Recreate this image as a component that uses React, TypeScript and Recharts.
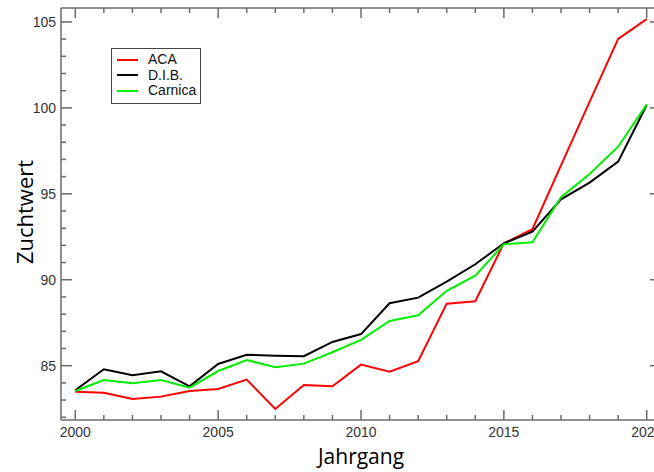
import { LineChart, Line, XAxis, YAxis } from 'recharts'

// Zuchtwert trend per Jahrgang, three breeding populations.

const years = [
  2000, 2001, 2002, 2003, 2004, 2005, 2006, 2007, 2008, 2009, 2010,
  2011, 2012, 2013, 2014, 2015, 2016, 2017, 2018, 2019, 2020,
]
const aca = [
  83.49, 83.43, 83.06, 83.2, 83.53, 83.65, 84.19, 82.48, 83.88, 83.8, 85.06,
  84.65, 85.26, 88.61, 88.75, 92.12, 92.94, 96.65, 100.35, 104.01, 105.16,
]
const dib = [
  83.57, 84.79, 84.44, 84.67, 83.8, 85.1, 85.64, 85.58, 85.55, 86.38, 86.84,
  88.63, 88.96, 89.89, 90.9, 92.12, 92.8, 94.68, 95.65, 96.87, 100.17,
]
const carnica = [
  83.53, 84.17, 83.98, 84.17, 83.72, 84.69, 85.33, 84.91, 85.12, 85.78, 86.5,
  87.6, 87.93, 89.36, 90.24, 92.06, 92.18, 94.8, 96.15, 97.74, 100.2,
]
const yTicks = [
  82, 83, 84, 85, 86, 87, 88, 89, 90, 91, 92, 93, 94, 95, 96, 97, 98, 99,
  100, 101, 102, 103, 104, 105,
]
const series = [
  { key: 'aca', name: 'ACA', color: '#ff0000' },
  { key: 'dib', name: 'D.I.B.', color: '#000000' },
  { key: 'carnica', name: 'Carnica', color: '#00ee00' },
]

const data = years.map((year, i) => ({ year, aca: aca[i], dib: dib[i], carnica: carnica[i] }))

const AXIS = '#6b6b6b'
const LABEL_FONT = '"Liberation Sans", Arial, sans-serif'
const TITLE_FONT = '"Open Sans", sans-serif'

function BottomTick({ x, y, payload }: any) {
  const major = payload.value % 5 === 0
  return (
    <g>
      <line x1={x} x2={x} y1={y} y2={y - (major ? 10 : 5)} stroke={AXIS} strokeWidth={1.5} />
      {major && (
        <text x={x} y={y + 17} textAnchor="middle" fontSize={14} fontFamily={LABEL_FONT} fill="#333">
          {payload.value}
        </text>
      )}
    </g>
  )
}

function TopTick({ x, y, payload }: any) {
  const major = payload.value % 5 === 0
  return <line x1={x} x2={x} y1={y} y2={y + (major ? 10 : 5)} stroke={AXIS} strokeWidth={1.5} />
}

function LeftTick({ x, y, payload }: any) {
  const major = payload.value % 5 === 0
  return (
    <g>
      <line x1={x} x2={x + (major ? 11 : 5)} y1={y} y2={y} stroke={AXIS} strokeWidth={1.5} />
      {major && (
        <text x={x - 5} y={y + 5} textAnchor="end" fontSize={14} fontFamily={LABEL_FONT} fill="#333">
          {payload.value}
        </text>
      )}
    </g>
  )
}

function RightTick({ x, y, payload }: any) {
  const major = payload.value % 5 === 0
  return <line x1={x} x2={x - (major ? 11 : 5)} y1={y} y2={y} stroke={AXIS} strokeWidth={1.5} />
}

function LegendBox() {
  return (
    <div
      style={{
        position: 'absolute',
        left: 111,
        top: 48,
        border: '1px solid #444',
        background: '#fff',
        width: 88,
        padding: '3px 0 4px 0',
        fontFamily: LABEL_FONT,
        fontSize: 14,
        lineHeight: '15.5px',
        color: '#111',
      }}
    >
      {series.map((s) => (
        <div key={s.key} style={{ display: 'flex', alignItems: 'center' }}>
          <span style={{ display: 'inline-block', width: 21, height: 2, background: s.color, marginLeft: 5, marginRight: 10 }} />
          {s.name}
        </div>
      ))}
    </div>
  )
}

export default function App() {
  return (
    <div style={{ width: 654, height: 472, overflow: 'hidden', position: 'relative', background: '#fff' }}>
      <style>{'body{margin:0;overflow:hidden}'}</style>
      <LineChart width={680} height={472} data={data} margin={{ top: 7, right: 18, bottom: 0, left: 0 }}>
        <XAxis
          dataKey="year"
          type="number"
          domain={[1999.5, 2020.5]}
          ticks={years}
          interval={0}
          allowDataOverflow
          height={52}
          tickSize={0}
          tickMargin={0}
          tickLine={false}
          tick={BottomTick}
          axisLine={{ stroke: AXIS, strokeWidth: 1.5 }}
          label={{
            content: ({ viewBox }: any) => (
              <text
                x={viewBox.x + viewBox.width / 2}
                y={464}
                textAnchor="middle"
                fontSize={21}
                fontFamily={TITLE_FONT}
                fill="#000"
              >
                Jahrgang
              </text>
            ),
          }}
        />
        <XAxis
          xAxisId="top"
          orientation="top"
          dataKey="year"
          type="number"
          domain={[1999.5, 2020.5]}
          ticks={years}
          interval={0}
          allowDataOverflow
          height={1}
          tickSize={0}
          tickMargin={0}
          tickLine={false}
          tick={TopTick}
          axisLine={{ stroke: AXIS, strokeWidth: 1.5 }}
        />
        <YAxis
          type="number"
          domain={[81.84, 105.81]}
          ticks={yTicks}
          interval={0}
          allowDataOverflow
          width={61}
          tickSize={0}
          tickMargin={0}
          tickLine={false}
          tick={LeftTick}
          axisLine={{ stroke: AXIS, strokeWidth: 1.5 }}
          label={{
            content: () => {
              const cx = 24
              const cy = 212
              return (
                <text
                  x={cx}
                  y={cy}
                  transform={`rotate(-90 ${cx} ${cy})`}
                  textAnchor="middle"
                  dominantBaseline="central"
                  fontSize={22}
                  fontFamily={TITLE_FONT}
                  fill="#000"
                >
                  Zuchtwert
                </text>
              )
            },
          }}
        />
        <YAxis
          yAxisId="right"
          orientation="right"
          type="number"
          domain={[81.84, 105.81]}
          ticks={yTicks}
          interval={0}
          allowDataOverflow
          width={1}
          tickSize={0}
          tickMargin={0}
          tickLine={false}
          tick={RightTick}
          axisLine={{ stroke: AXIS, strokeWidth: 1.5 }}
        />
        {series.map((s) => (
          <Line
            key={s.key}
            type="linear"
            dataKey={s.key}
            name={s.name}
            stroke={s.color}
            strokeWidth={2}
            dot={false}
            isAnimationActive={false}
          />
        ))}
      </LineChart>
      <LegendBox />
    </div>
  )
}
